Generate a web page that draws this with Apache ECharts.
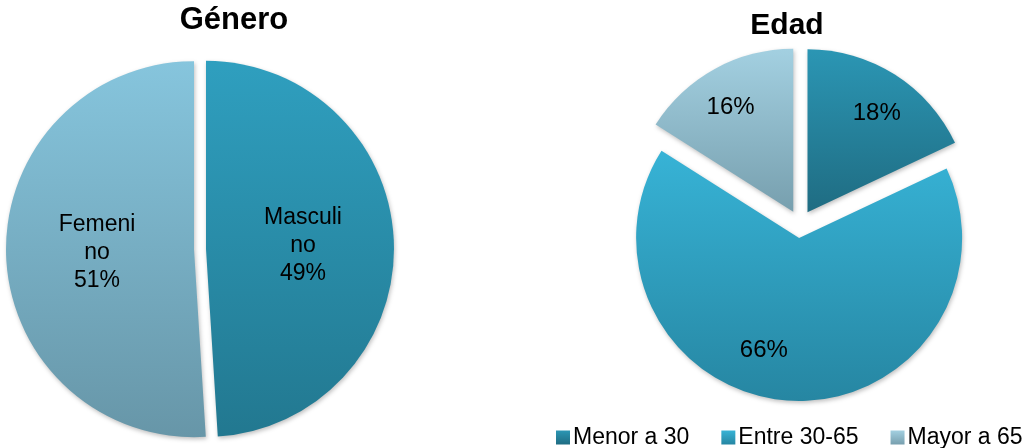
<!DOCTYPE html>
<html>

<head>
  <meta charset="UTF-8">
  <title>Género y Edad</title>
  <script src="https://cdn.jsdelivr.net/npm/echarts@6/dist/echarts.min.js"></script>
  <style>
    html,
    body {
      margin: 0;
      padding: 0;
      background: #fff;
    }

    #chart {
      width: 1030px;
      height: 448px;
    }
  </style>
</head>

<body>
  <div id="chart"></div>
  <script>
    // datos
    const generoNombres = ['Masculino', 'Femenino'];
    const generoValores = [49, 51];
    const edadNombres = ['Menor a 30', 'Entre 30-65', 'Mayor a 65'];
    const edadValores = [18, 66, 16];

    // colores (arriba, abajo) de cada porción
    const generoColores = [['#2f9fbf', '#227890'], ['#86c5dd', '#6796a8']];
    const edadColores = [['#2b96b4', '#1f6c82'], ['#37b3d6', '#2686a2'], ['#a3d0e1', '#779fae']];
    // ajuste fino de las etiquetas de Edad
    const edadNudge = [[24, -27], [-30, 28], [-22, -30]];

    const font = 'Arial, "Liberation Sans", sans-serif';

    function grad(c) {
      return new echarts.graphic.LinearGradient(0, 0, 0, 1, [
        { offset: 0, color: c[0] },
        { offset: 1, color: c[1] }
      ]);
    }

    const sombra = {
      shadowColor: 'rgba(0,0,0,0.25)',
      shadowBlur: 4,
      shadowOffsetX: 1,
      shadowOffsetY: 2
    };

    const chart = echarts.init(document.getElementById('chart'));

    chart.setOption({
      animation: false,
      title: [
        {
          text: 'Género', left: 229, top: 0, textAlign: 'center',
          textStyle: { fontFamily: font, fontSize: 31, fontWeight: 'bold', color: '#000' }
        },
        {
          text: 'Edad', left: 782, top: 6, textAlign: 'center',
          textStyle: { fontFamily: font, fontSize: 30, fontWeight: 'bold', color: '#000' }
        }
      ],
      legend: {
        data: edadNombres,
        left: 551,
        top: 421,
        icon: 'rect',
        itemWidth: 14,
        itemHeight: 14,
        itemGap: 32,
        textStyle: { fontFamily: font, fontSize: 23, color: '#000', padding: [0, 0, 0, -2] }
      },
      series: [
        {
          name: 'Género',
          type: 'pie',
          center: [200, 249],
          radius: [0, 188],
          startAngle: 90,
          selectedMode: 'multiple',
          selectedOffset: 6,
          emphasis: { disabled: true },
          label: {
            position: 'inside',
            fontFamily: font,
            fontSize: 23,
            lineHeight: 28,
            color: '#000',
            formatter: p => p.name.replace(/no$/, '\nno') + '\n' + Math.round(p.percent) + '%'
          },
          labelLine: { show: false },
          data: generoNombres.map((n, i) => ({
            name: n,
            value: generoValores[i],
            selected: true,
            itemStyle: Object.assign({ color: grad(generoColores[i]) }, sombra)
          }))
        },
        {
          name: 'Edad',
          type: 'pie',
          center: [800, 224],
          radius: [0, 163],
          startAngle: 90,
          selectedMode: 'multiple',
          selectedOffset: 14,
          emphasis: { disabled: true },
          label: {
            position: 'inside',
            fontFamily: font,
            fontSize: 24,
            color: '#000',
            formatter: p => Math.round(p.percent) + '%'
          },
          labelLine: { show: false },
          labelLayout: p => ({ dx: edadNudge[p.dataIndex][0], dy: edadNudge[p.dataIndex][1] }),
          data: edadNombres.map((n, i) => ({
            name: n,
            value: edadValores[i],
            selected: true,
            itemStyle: Object.assign({ color: grad(edadColores[i]) }, sombra)
          }))
        }
      ]
    });
  </script>
</body>

</html>
